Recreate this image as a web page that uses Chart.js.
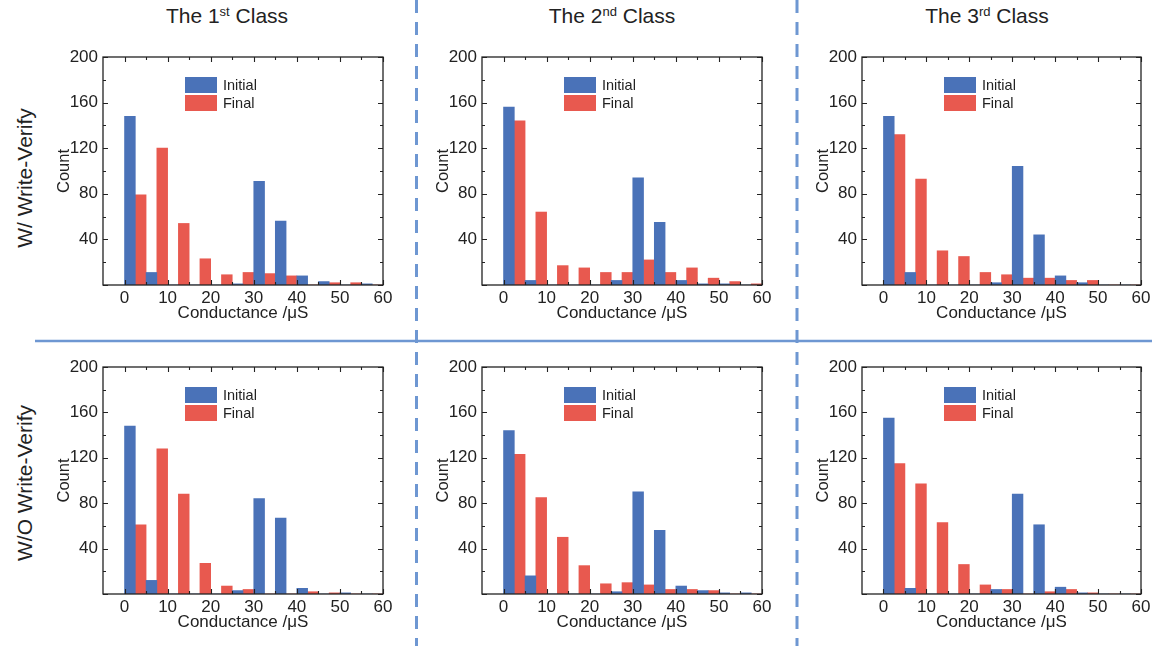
<!DOCTYPE html>
<html>
<head>
<meta charset="utf-8">
<title>Conductance histograms</title>
<script src="https://cdn.jsdelivr.net/npm/chart.js@4/dist/chart.umd.min.js"></script>
<style>
  html, body { margin: 0; padding: 0; background: #fff; }
  #fig { position: relative; width: 1157px; height: 646px; overflow: hidden;
         font-family: "Liberation Sans", Arial, sans-serif; color: #222; }
  #fig canvas { position: absolute; }
  #sep { position: absolute; left: 0; top: 0; }
  .title { position: absolute; top: 5px; font-size: 21px; line-height: 21px;
           white-space: nowrap; transform: translateX(-50%); }
  .title sup { font-size: 13px; vertical-align: 7px; line-height: 0; }
  .row { position: absolute; font-size: 21px; line-height: 21px; white-space: nowrap;
         transform: translate(-50%, -50%) rotate(-90deg); }
</style>
</head>
<body>
<div id="fig">
  <svg id="sep" width="1157" height="646">
    <line x1="416.5" y1="0" x2="416.5" y2="646" stroke="#6e97d2" stroke-width="3" stroke-dasharray="13 9"/>
    <line x1="797" y1="0" x2="797" y2="646" stroke="#6e97d2" stroke-width="3" stroke-dasharray="13 9"/>
    <line x1="35" y1="341" x2="1152" y2="341" stroke="#6e97d2" stroke-width="2.6"/>
  </svg>
  <div class="title" style="left:227px">The 1<sup>st</sup> Class</div>
  <div class="title" style="left:612px">The 2<sup>nd</sup> Class</div>
  <div class="title" style="left:987px">The 3<sup>rd</sup> Class</div>
  <div class="row" style="left:24px; top:178px">W/ Write-Verify</div>
  <div class="row" style="left:24px; top:483px">W/O Write-Verify</div>
  <canvas id="c00" width="345" height="285" style="left:50px; top:45px"></canvas>
  <canvas id="c01" width="345" height="285" style="left:429px; top:45px"></canvas>
  <canvas id="c02" width="345" height="285" style="left:809px; top:45px"></canvas>
  <canvas id="c10" width="345" height="284" style="left:50px; top:355px"></canvas>
  <canvas id="c11" width="345" height="284" style="left:429px; top:355px"></canvas>
  <canvas id="c12" width="345" height="284" style="left:809px; top:355px"></canvas>
</div>
<script>
// Histogram bins (conductance, µS): each bin is 5 µS wide, starting at these values
const binStarts = [0, 5, 10, 15, 20, 25, 30, 35, 40, 45, 50, 55];
const binWidth = 5;

// Axis ticks
const xTicks = [0, 10, 20, 30, 40, 50, 60];
const yTicks = [0, 40, 80, 120, 160, 200];

// Counts per bin — with write-verify
const initialW1 = [148, 11, 0, 0, 0, 1, 91, 56, 8, 3, 0, 1];
const finalW1   = [79, 120, 54, 23, 9, 11, 10, 8, 0, 2, 2, 0];
const initialW2 = [156, 4, 0, 0, 0, 4, 94, 55, 4, 1, 1, 0];
const finalW2   = [144, 64, 17, 15, 11, 11, 22, 11, 15, 6, 3, 1];
const initialW3 = [148, 11, 0, 0, 0, 2, 104, 44, 8, 2, 0, 0];
const finalW3   = [132, 93, 30, 25, 11, 9, 6, 6, 4, 4, 0, 0];

// Counts per bin — without write-verify
const initialO1 = [148, 12, 0, 0, 0, 3, 84, 67, 5, 0, 1, 0];
const finalO1   = [61, 128, 88, 27, 7, 4, 0, 0, 2, 1, 0, 0];
const initialO2 = [144, 16, 0, 0, 0, 2, 90, 56, 7, 3, 1, 1];
const finalO2   = [123, 85, 50, 25, 9, 10, 8, 4, 4, 3, 0, 0];
const initialO3 = [155, 5, 0, 0, 0, 4, 88, 61, 6, 1, 0, 0];
const finalO3   = [115, 97, 63, 26, 8, 4, 0, 2, 4, 1, 0, 0];

const seriesNames = ['Initial', 'Final'];
const BLUE = '#4a72b8';
const RED = '#e8594f';
const INK = '#222';
const FONT = 'Liberation Sans, Arial, sans-serif';

const panels = [
  { id: 'c00', initial: initialW1, final: finalW1, plotW: 280, plotH: 228 },
  { id: 'c01', initial: initialW2, final: finalW2, plotW: 280, plotH: 228 },
  { id: 'c02', initial: initialW3, final: finalW3, plotW: 279, plotH: 228 },
  { id: 'c10', initial: initialO1, final: finalO1, plotW: 280, plotH: 227 },
  { id: 'c11', initial: initialO2, final: finalO2, plotW: 280, plotH: 227 },
  { id: 'c12', initial: initialO3, final: finalO3, plotW: 279, plotH: 227 }
];

const Y_AXIS_W = 53;
const X_AXIS_H = 45;
const TOP_PAD = 12;

// Frame around the plot with inward major/minor ticks on all four sides
const frameTicks = {
  id: 'frameTicks',
  afterDatasetsDraw(chart) {
    const { ctx, chartArea: a, scales: { x, y } } = chart;
    ctx.save();
    ctx.strokeStyle = INK;
    ctx.lineWidth = 1.3;
    ctx.strokeRect(a.left, a.top, a.right - a.left, a.bottom - a.top);
    ctx.lineWidth = 1.1;
    ctx.beginPath();
    const xMinor = xTicks.slice(0, -1).map((v, i) => (v + xTicks[i + 1]) / 2);
    const yMinor = yTicks.slice(0, -1).map((v, i) => (v + yTicks[i + 1]) / 2);
    const xMarks = xTicks.map(v => [v, 5]).concat(xMinor.map(v => [v, 3]));
    const yMarks = yTicks.map(v => [v, 5]).concat(yMinor.map(v => [v, 3]));
    xMarks.forEach(([v, len]) => {
      const px = Math.round(x.getPixelForValue(v)) + 0.5;
      ctx.moveTo(px, a.bottom); ctx.lineTo(px, a.bottom - len);
      ctx.moveTo(px, a.top); ctx.lineTo(px, a.top + len);
    });
    yMarks.forEach(([v, len]) => {
      const py = Math.round(y.getPixelForValue(v)) + 0.5;
      ctx.moveTo(a.left, py); ctx.lineTo(a.left + len, py);
      ctx.moveTo(a.right, py); ctx.lineTo(a.right - len, py);
    });
    ctx.stroke();
    ctx.restore();
  }
};

// Legend drawn inside the plot area, near its upper left
const insetLegend = {
  id: 'insetLegend',
  afterDraw(chart) {
    const { ctx, chartArea: a } = chart;
    const bx = a.left + 82, by = a.top + 20;
    ctx.save();
    ctx.font = '14.5px ' + FONT;
    ctx.textBaseline = 'middle';
    ctx.textAlign = 'left';
    chart.data.datasets.forEach((ds, i) => {
      const top = by + i * 18;
      ctx.fillStyle = ds.backgroundColor;
      ctx.fillRect(bx, top, 32, 16);
      ctx.fillStyle = INK;
      ctx.fillText(ds.label, bx + 38, top + 8.5);
    });
    ctx.restore();
  }
};

function buildPanel(p) {
  const canvas = document.getElementById(p.id);
  const centers = binStarts.map(b => b + binWidth / 2);
  return new Chart(canvas, {
    type: 'bar',
    data: {
      datasets: [
        { label: seriesNames[0], backgroundColor: BLUE,
          data: centers.map((c, i) => ({ x: c, y: p.initial[i] })) },
        { label: seriesNames[1], backgroundColor: RED,
          data: centers.map((c, i) => ({ x: c, y: p.final[i] })) }
      ]
    },
    options: {
      responsive: false,
      animation: false,
      devicePixelRatio: 1,
      layout: { padding: { top: TOP_PAD, left: 0, bottom: 0,
                           right: canvas.width - Y_AXIS_W - p.plotW } },
      datasets: { bar: { barPercentage: 1, categoryPercentage: 1, borderWidth: 0 } },
      scales: {
        x: {
          type: 'linear', min: -5, max: 60, offset: false,
          grid: { display: false, drawTicks: false },
          border: { display: false },
          afterBuildTicks: s => { s.ticks = xTicks.map(v => ({ value: v })); },
          ticks: { color: INK, font: { family: FONT, size: 17 }, padding: 3,
                   maxRotation: 0, autoSkip: false },
          title: { display: true, text: 'Conductance /μS', color: INK,
                   font: { family: FONT, size: 17 }, padding: { top: 0, bottom: 6 } },
          afterFit: s => { s.height = X_AXIS_H; s.paddingLeft = 0; s.paddingRight = 0; }
        },
        y: {
          min: 0, max: 200,
          grid: { display: false, drawTicks: false },
          border: { display: false },
          afterBuildTicks: s => { s.ticks = yTicks.map(v => ({ value: v })); },
          ticks: { color: INK, font: { family: FONT, size: 17 }, padding: 5,
                   callback: v => (v === 0 ? '' : String(v)) },
          title: { display: true, text: 'Count', color: INK,
                   font: { family: FONT, size: 16.5 }, padding: { top: 5, bottom: 0 } },
          afterFit: s => { s.width = Y_AXIS_W; s.paddingTop = 0; s.paddingBottom = 0; }
        }
      },
      plugins: { legend: { display: false }, tooltip: { enabled: false } }
    },
    plugins: [frameTicks, insetLegend]
  });
}

panels.forEach(buildPanel);
</script>
</body>
</html>
